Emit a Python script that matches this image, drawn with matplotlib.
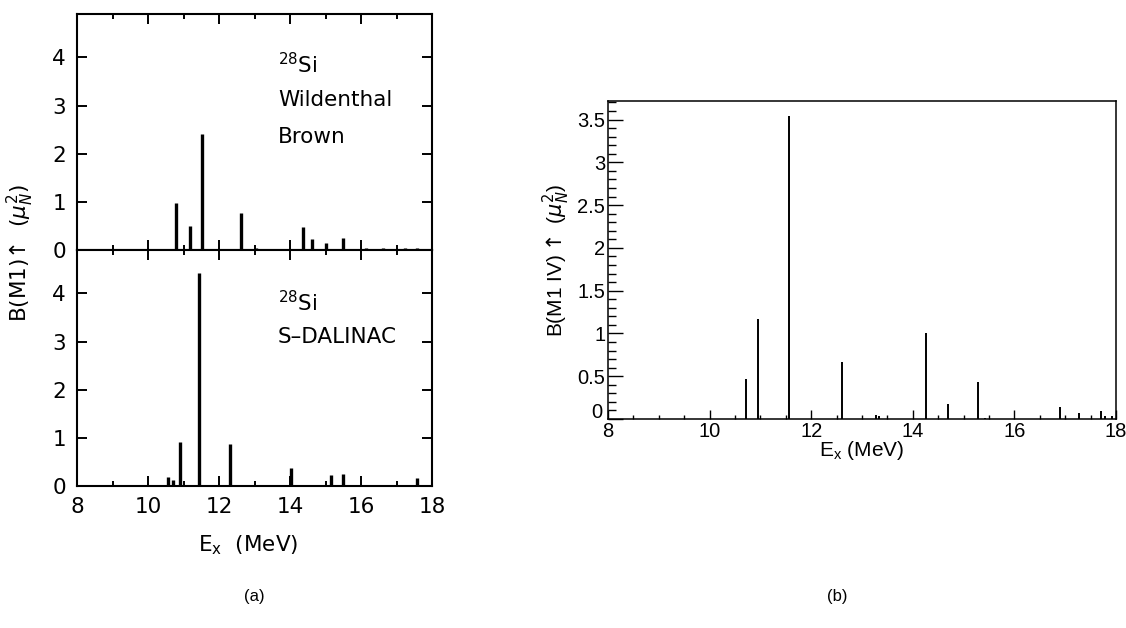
import matplotlib
matplotlib.use("Agg")
import matplotlib.pyplot as plt
from matplotlib.ticker import MultipleLocator, FixedLocator

plt.rcParams['mathtext.fontset'] = 'custom'
plt.rcParams['mathtext.rm'] = 'Liberation Sans'
plt.rcParams['mathtext.it'] = 'Liberation Sans:italic'
plt.rcParams['mathtext.bf'] = 'Liberation Sans:bold'

# ---------------- data ----------------
# (a) top: shell model (Wildenthal/Brown)
wb_E = [10.79, 11.18, 11.51, 12.61, 13.05, 14.20, 14.38, 14.61, 15.01, 15.50,
        16.13, 16.63, 17.24, 17.38, 17.57, 17.72]
wb_B = [0.97, 0.50, 2.41, 0.77, 0.05, 0.02, 0.47, 0.22, 0.15, 0.24,
        0.05, 0.04, 0.04, 0.03, 0.04, 0.03]
# (a) bottom: S-DALINAC experiment
sd_E = [10.57, 10.71, 10.90, 11.45, 12.31, 14.03, 15.16, 15.50, 17.57]
sd_B = [0.19, 0.12, 0.92, 4.43, 0.88, 0.38, 0.22, 0.25, 0.17]
# (b): B(M1 IV)
iv_E = [10.71, 10.96, 11.57, 12.61, 13.28, 13.33, 14.25, 14.70, 15.28, 15.42,
        16.90, 17.28, 17.70, 17.78, 17.93]
iv_B = [0.467, 1.17, 3.54, 0.67, 0.05, 0.03, 1.01, 0.18, 0.43, 0.015,
        0.137, 0.075, 0.095, 0.03, 0.03]

left_yticks = [0, 1, 2, 3, 4]
left_xticks = [8, 10, 12, 14, 16, 18]

W, H = 1126, 628
fig = plt.figure(figsize=(W / 100, H / 100), dpi=100)

def frac(x0, y0, x1, y1):
    return [x0 / W, 1 - y1 / H, (x1 - x0) / W, (y1 - y0) / H]

def fpos(x, y):
    return x / W, 1 - y / H

LF = ['DejaVu Sans']
RF = ['Liberation Sans', 'DejaVu Sans']

axT = fig.add_axes(frac(77, 14, 432, 250))
axB = fig.add_axes(frac(77, 250, 432, 486), sharex=axT)

for ax, E, B in [(axT, wb_E, wb_B), (axB, sd_E, sd_B)]:
    ax.vlines(E, 0, B, colors='black', linewidth=2.4, capstyle='butt')
    ax.set_xlim(8, 18)
    ax.set_ylim(0, 4.9)
    ax.xaxis.set_major_locator(FixedLocator(left_xticks))
    ax.xaxis.set_minor_locator(MultipleLocator(1))
    ax.yaxis.set_major_locator(FixedLocator(left_yticks))
    ax.tick_params(which='both', direction='in', top=True, bottom=True,
                   left=True, right=True, width=1.4, labelsize=15.5, pad=8)
    ax.tick_params(which='major', length=7)
    ax.tick_params(which='minor', length=3.5)
    for s in ax.spines.values():
        s.set_linewidth(1.5)
    for lab in ax.get_yticklabels() + ax.get_xticklabels():
        lab.set_family(LF)

axT.tick_params(labelbottom=False)

kw = dict(fontsize=15.5, family=LF, math_fontfamily='dejavusans',
          ha='left', va='center', transform=fig.transFigure)
fig.text(*fpos(278, 65), r'$^{28}$Si', **kw)
fig.text(*fpos(278, 100), 'Wildenthal', **kw)
fig.text(*fpos(278, 137), 'Brown', **kw)
fig.text(*fpos(278, 303), r'$^{28}$Si', **kw)
fig.text(*fpos(278, 337), 'S\u2013DALINAC', **kw)

fig.text(*fpos(20, 253), 'B(M1)\u2191  ($\\mu_N^2$)', rotation=90,
         ha='center', va='center', fontsize=15.5, family=LF,
         math_fontfamily='dejavusans')
fig.text(*fpos(248, 545), r'E$_\mathregular{x}$  (MeV)', ha='center',
         va='center', fontsize=15.5, family=LF, math_fontfamily='dejavusans')
fig.text(*fpos(254, 597), '(a)', ha='center', va='center',
         fontsize=12, family=RF)

# ---------------- (b) ----------------
axR = fig.add_axes(frac(608, 101, 1116, 419))
axR.vlines(iv_E, 0, iv_B, colors='black', linewidth=1.4, capstyle='butt')
axR.set_xlim(8, 18)
axR.set_ylim(0, 3.717)
axR.xaxis.set_major_locator(MultipleLocator(2))
axR.xaxis.set_minor_locator(MultipleLocator(0.5))
axR.yaxis.set_major_locator(MultipleLocator(0.5))
axR.yaxis.set_minor_locator(MultipleLocator(0.1))
axR.tick_params(which='both', direction='in', top=False, right=False,
                width=1.0, labelsize=14.5, pad=2)
axR.tick_params(axis='y', which='major', length=11)
axR.tick_params(axis='y', which='minor', length=6)
axR.tick_params(axis='x', which='major', length=6.5)
axR.tick_params(axis='x', which='minor', length=3)
for s in axR.spines.values():
    s.set_linewidth(1.1)
for lab in axR.get_yticklabels() + axR.get_xticklabels():
    lab.set_family(RF)
# ROOT-style: the y "0" label sits a little higher/left than the x "8"
axR.yaxis.set_major_formatter(
    plt.FuncFormatter(lambda v, p: '' if abs(v) < 1e-9 else f'{v:g}'))
fig.text(*fpos(602, 412), '0', ha='right', va='center', fontsize=14.5,
         family=RF)

fig.text(*fpos(556, 260), 'B(M1 IV)$\\uparrow$ ($\\mu_N^2$)', rotation=90,
         ha='center', va='center', fontsize=15, family=RF,
         math_fontfamily='dejavusans')
fig.text(*fpos(862, 450), r'E$_\mathregular{x}$ (MeV)', ha='center',
         va='center', fontsize=15, family=RF, math_fontfamily='custom')
fig.text(*fpos(837, 597), '(b)', ha='center', va='center',
         fontsize=12, family=RF)

fig.savefig('out.png', dpi=100)
